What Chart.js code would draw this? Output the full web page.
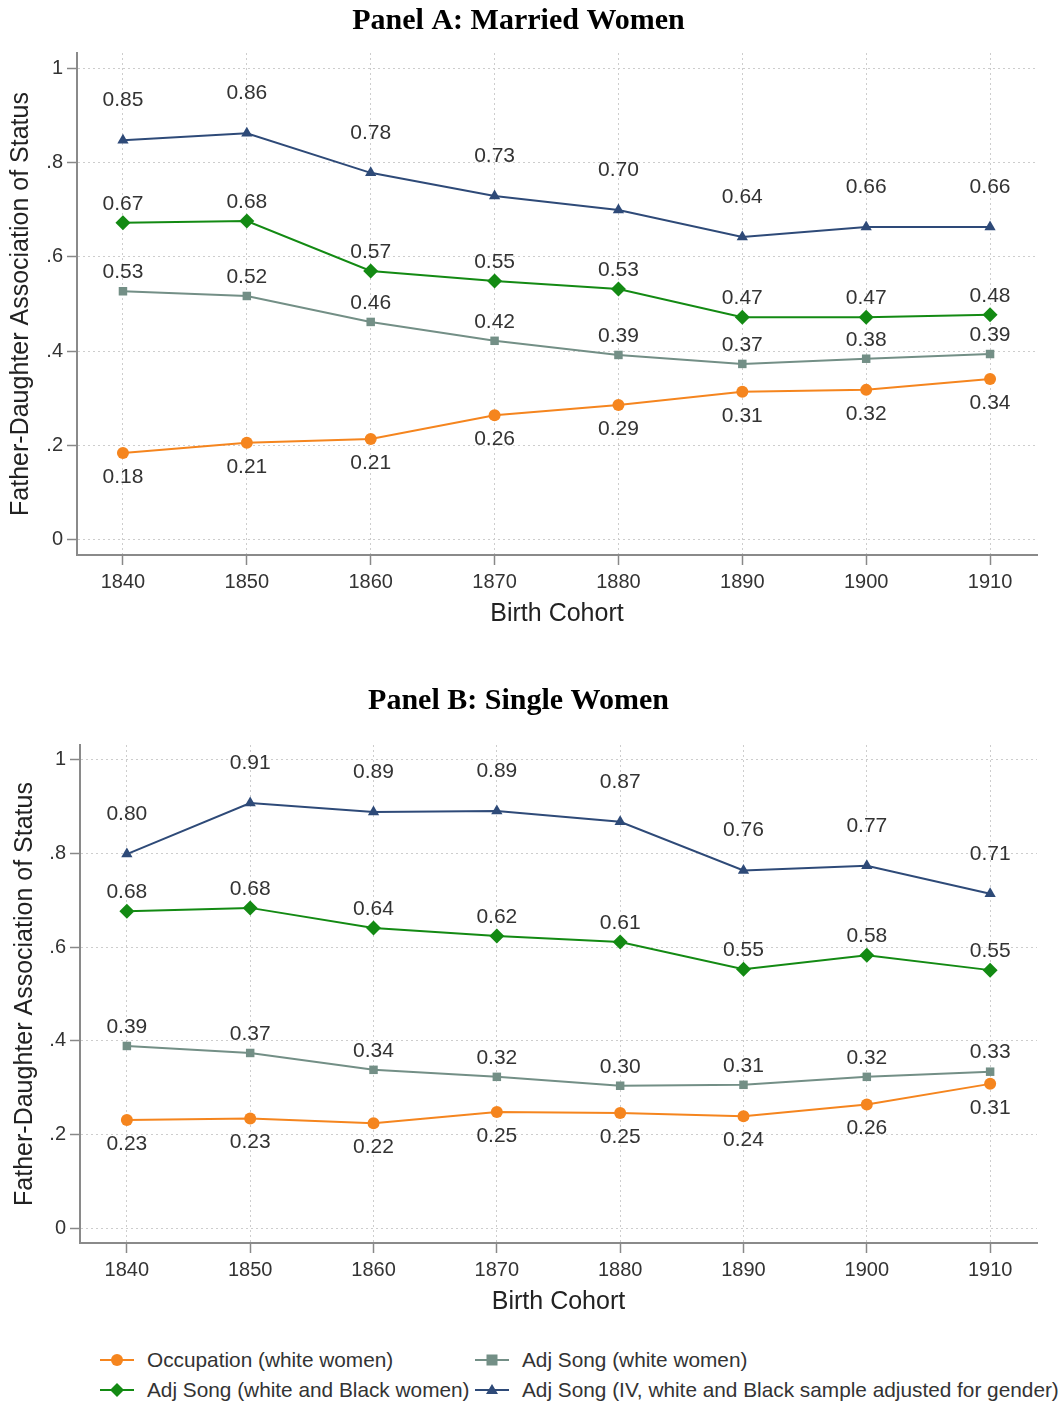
<!DOCTYPE html>
<html>
<head>
<meta charset="utf-8">
<script src="https://cdn.jsdelivr.net/npm/chart.js@4.4.1/dist/chart.umd.min.js"></script>
<style>
  html, body { margin: 0; padding: 0; background: #fff; }
  body { width: 1061px; height: 1403px; position: relative; overflow: hidden; }
  .wrap { position: absolute; left: 0; width: 1061px; }
  #wrapA { top: 0; height: 645px; }
  #wrapB { top: 660px; height: 670px; }
  #legend { position: absolute; top: 1343px; left: 0; width: 1061px; height: 60px;
            font-family: "Liberation Sans", Arial, sans-serif; font-size: 20.8px; color: #333; }
  .li { position: absolute; display: flex; align-items: center; white-space: nowrap; }
  .li svg { margin-right: 13px; }
</style>
</head>
<body>
<div class="wrap" id="wrapA"><canvas id="chartA"></canvas></div>
<div class="wrap" id="wrapB"><canvas id="chartB"></canvas></div>
<div id="legend"></div>
<script>
// ---------- Data ----------
const cohorts = [1840, 1850, 1860, 1870, 1880, 1890, 1900, 1910];
const yTickValues = [0, 0.2, 0.4, 0.6, 0.8, 1];
const yTickLabels = ['0', '.2', '.4', '.6', '.8', '1'];
const seriesNames = [
  'Occupation (white women)',
  'Adj Song (white women)',
  'Adj Song (white and Black women)',
  'Adj Song (IV, white and Black sample adjusted for gender)'
];

// Panel A: Married Women
const marriedOccupation = [0.184, 0.206, 0.214, 0.264, 0.286, 0.314, 0.318, 0.341];
const marriedSongWhite  = [0.527, 0.517, 0.462, 0.422, 0.392, 0.373, 0.384, 0.394];
const marriedSongWB     = [0.672, 0.676, 0.570, 0.549, 0.532, 0.472, 0.472, 0.477];
const marriedSongIV     = [0.847, 0.862, 0.778, 0.729, 0.699, 0.642, 0.663, 0.663];

// Panel B: Single Women
const singleOccupation = [0.231, 0.234, 0.224, 0.248, 0.246, 0.239, 0.264, 0.308];
const singleSongWhite  = [0.389, 0.374, 0.338, 0.323, 0.304, 0.306, 0.323, 0.334];
const singleSongWB     = [0.677, 0.684, 0.641, 0.624, 0.611, 0.553, 0.583, 0.551];
const singleSongIV     = [0.799, 0.908, 0.889, 0.891, 0.868, 0.764, 0.774, 0.714];

// ---------- Styles ----------
const colors = ['#F5851E', '#738F86', '#138A13', '#2E4A78'];
const shapes = ['circle', 'rect', 'rectRot', 'triangle'];
const radii  = [6, 6, 7.5, 6.5];
const labelOffsets = [24, -19, -19, -40];
const sans = '"Liberation Sans", Arial, sans-serif';
const serif = '"Liberation Serif", "Times New Roman", serif';

const valueLabelPlugin = {
  id: 'valueLabels',
  afterDatasetsDraw(chart) {
    const ctx = chart.ctx;
    ctx.save();
    ctx.font = '21px ' + sans;
    ctx.fillStyle = '#333';
    ctx.textAlign = 'center';
    ctx.textBaseline = 'middle';
    chart.data.datasets.forEach((ds, di) => {
      const meta = chart.getDatasetMeta(di);
      meta.data.forEach((pt, i) => {
        ctx.fillText(ds.data[i].y.toFixed(2), pt.x, pt.y + labelOffsets[di]);
      });
    });
    ctx.restore();
  }
};

function makeChart(id, title, seriesArr, geom) {
  const datasets = seriesArr.map((vals, k) => ({
    label: seriesNames[k],
    data: cohorts.map((c, i) => ({ x: c, y: vals[i] })),
    borderColor: colors[k],
    backgroundColor: colors[k],
    borderWidth: 2,
    pointStyle: shapes[k],
    pointRadius: radii[k],
    pointHoverRadius: radii[k],
    pointBorderWidth: 0,
    tension: 0
  }));
  const grid = {
    display: true,
    color: '#cdcdcd',
    lineWidth: 1,
    drawTicks: true,
    tickLength: 10,
    tickColor: '#888',
    tickWidth: 1.5,
    tickBorderDash: []
  };
  const border = { display: true, color: '#8a8a8a', width: 2, dash: [2, 3] };
  return new Chart(document.getElementById(id), {
    type: 'line',
    data: { datasets },
    options: {
      responsive: true,
      maintainAspectRatio: false,
      animation: false,
      events: [],
      layout: { padding: { left: 0, right: 24, top: 0, bottom: 0 } },
      plugins: {
        legend: { display: false },
        tooltip: { enabled: false },
        title: {
          display: true,
          text: title,
          color: '#000',
          font: { family: serif, size: 30, weight: 'bold' },
          padding: { top: geom.titleTop, bottom: geom.titleBottom }
        }
      },
      scales: {
        x: {
          type: 'linear',
          min: geom.xmin,
          max: geom.xmax,
          afterBuildTicks(scale) { scale.ticks = cohorts.map(v => ({ value: v })); },
          afterFit(scale) { scale.height = geom.xHeight; },
          grid: grid,
          border: border,
          ticks: {
            color: '#333',
            font: { family: sans, size: 20 },
            padding: 5,
            maxRotation: 0,
            callback: (v) => String(v)
          },
          title: {
            display: true,
            text: 'Birth Cohort',
            color: '#222',
            font: { family: sans, size: 25 },
            padding: { top: 0, bottom: geom.xTitlePad }
          }
        },
        y: {
          type: 'linear',
          min: -0.032,
          max: 1.032,
          afterBuildTicks(scale) { scale.ticks = yTickValues.map(v => ({ value: v })); },
          afterFit(scale) { scale.width = geom.yWidth; },
          grid: grid,
          border: border,
          ticks: {
            color: '#333',
            font: { family: sans, size: 20 },
            padding: 4,
            callback: (v) => {
              const idx = yTickValues.findIndex(t => Math.abs(t - v) < 1e-9);
              return idx >= 0 ? yTickLabels[idx] : '';
            }
          },
          title: {
            display: true,
            text: 'Father-Daughter Association of Status',
            color: '#222',
            font: { family: sans, size: 25 },
            padding: { top: geom.yTitlePad, bottom: 0 }
          }
        }
      }
    },
    plugins: [valueLabelPlugin]
  });
}

makeChart('chartA', 'Panel A: Married Women',
  [marriedOccupation, marriedSongWhite, marriedSongWB, marriedSongIV],
  { xmin: 1836.29, xmax: 1913.79, yWidth: 77, xHeight: 90, titleTop: 3, titleBottom: 14, xTitlePad: 16, yTitlePad: 6 });

makeChart('chartB', 'Panel B: Single Women',
  [singleOccupation, singleSongWhite, singleSongWB, singleSongIV],
  { xmin: 1836.2, xmax: 1913.8, yWidth: 80, xHeight: 87, titleTop: 23, titleBottom: 26, xTitlePad: 13, yTitlePad: 10 });

// ---------- HTML legend ----------
function markerSvg(k) {
  const c = colors[k];
  let m = '';
  if (shapes[k] === 'circle') m = `<circle cx="17" cy="10" r="6" fill="${c}"/>`;
  else if (shapes[k] === 'rect') m = `<rect x="11.5" y="4.5" width="11" height="11" fill="${c}"/>`;
  else if (shapes[k] === 'rectRot') m = `<polygon points="17,3 24,10 17,17 10,10" fill="${c}"/>`;
  else m = `<polygon points="17,4 23,14 11,14" fill="${c}"/>`;
  return `<svg width="34" height="20" viewBox="0 0 34 20"><line x1="0" y1="10" x2="34" y2="10" stroke="${c}" stroke-width="2"/>${m}</svg>`;
}
const legendPos = [
  { left: 100, top: 5 },
  { left: 475, top: 5 },
  { left: 100, top: 35 },
  { left: 475, top: 35 }
];
const legendEl = document.getElementById('legend');
seriesNames.forEach((name, k) => {
  const d = document.createElement('div');
  d.className = 'li';
  d.style.left = legendPos[k].left + 'px';
  d.style.top = legendPos[k].top + 'px';
  d.innerHTML = markerSvg(k) + '<span>' + name + '</span>';
  legendEl.appendChild(d);
});
</script>
</body>
</html>
